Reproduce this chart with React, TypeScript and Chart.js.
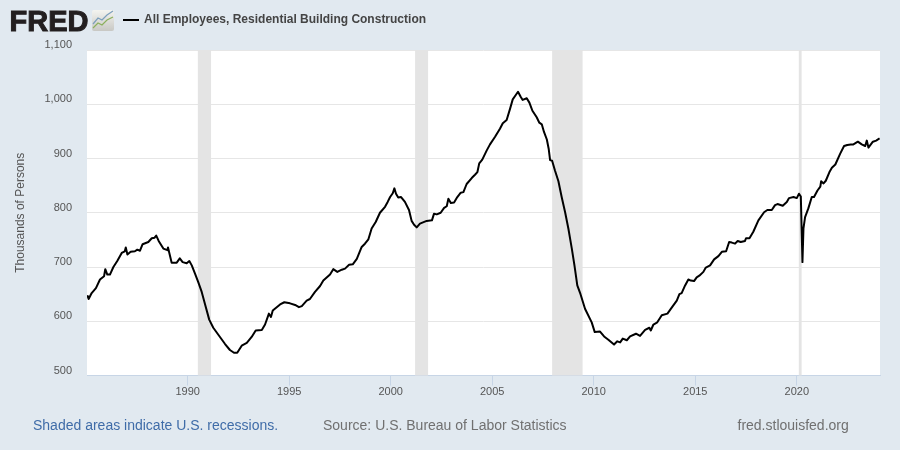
import React, { useEffect, useRef } from "react";
import { Chart, registerables } from "chart.js";

Chart.register(...registerables);

const seriesName = "All Employees, Residential Building Construction";
const yAxisTitle = "Thousands of Persons";
const tickYears = [1990, 1995, 2000, 2005, 2010, 2015, 2020];
const xMin = 1985.04;
const xMax = 2024.1;

const recessionStarts = [1990.5, 2001.2, 2007.95, 2020.1];
const recessionEnds = [1991.15, 2001.84, 2009.45, 2020.24];

const years = [
  1985.06, 1985.12, 1985.27, 1985.48, 1985.68, 1985.88, 1985.94, 1986.04, 1986.17, 1986.34, 1986.53, 1986.75,
  1986.9, 1986.95, 1987.03, 1987.19, 1987.4, 1987.52, 1987.65, 1987.78, 1988.06, 1988.23, 1988.37, 1988.45,
  1988.57, 1988.8, 1989.0, 1989.03, 1989.21, 1989.46, 1989.61, 1989.75, 1989.95, 1990.08, 1990.2, 1990.36,
  1990.52, 1990.69, 1990.85, 1991.06, 1991.26, 1991.59, 1991.84, 1992.08, 1992.28, 1992.44, 1992.66, 1992.91,
  1993.15, 1993.35, 1993.65, 1993.81, 1994.0, 1994.1, 1994.19, 1994.55, 1994.76, 1995.04, 1995.29, 1995.48,
  1995.62, 1995.86, 1996.02, 1996.27, 1996.52, 1996.68, 1997.01, 1997.17, 1997.37, 1997.59, 1997.75, 1997.95,
  1998.13, 1998.33, 1998.57, 1998.73, 1998.9, 1999.06, 1999.26, 1999.47, 1999.72, 1999.85, 1999.97, 2000.1,
  2000.18, 2000.26, 2000.37, 2000.51, 2000.7, 2000.9, 2001.03, 2001.15, 2001.28, 2001.44, 2001.77, 2002.03,
  2002.13, 2002.27, 2002.46, 2002.63, 2002.76, 2002.84, 2002.96, 2003.12, 2003.28, 2003.45, 2003.58, 2003.74,
  2003.99, 2004.15, 2004.27, 2004.36, 2004.51, 2004.73, 2004.89, 2005.14, 2005.38, 2005.52, 2005.71, 2005.88,
  2006.01, 2006.16, 2006.27, 2006.4, 2006.5, 2006.7, 2006.83, 2006.98, 2007.19, 2007.32, 2007.44, 2007.55,
  2007.69, 2007.78, 2007.85, 2007.95, 2008.09, 2008.26, 2008.42, 2008.59, 2008.75, 2008.92, 2009.05, 2009.19,
  2009.33, 2009.57, 2009.9, 2010.05, 2010.31, 2010.51, 2010.72, 2011.0, 2011.16, 2011.3, 2011.43, 2011.63,
  2011.79, 2012.08, 2012.28, 2012.53, 2012.74, 2012.81, 2012.94, 2013.13, 2013.35, 2013.63, 2013.84, 2014.09,
  2014.22, 2014.33, 2014.5, 2014.66, 2014.78, 2014.94, 2015.07, 2015.2, 2015.4, 2015.52, 2015.73, 2015.93,
  2016.14, 2016.31, 2016.52, 2016.67, 2016.8, 2016.96, 2017.09, 2017.24, 2017.45, 2017.5, 2017.67, 2017.86,
  2018.11, 2018.39, 2018.55, 2018.77, 2018.93, 2019.05, 2019.31, 2019.51, 2019.62, 2019.84, 2020.0, 2020.11,
  2020.2, 2020.28, 2020.33, 2020.41, 2020.57, 2020.74, 2020.85, 2021.02, 2021.16, 2021.2, 2021.32, 2021.43,
  2021.61, 2021.73, 2021.9, 2022.14, 2022.33, 2022.49, 2022.66, 2022.79, 2023.01, 2023.2, 2023.37, 2023.45,
  2023.53, 2023.75, 2023.91, 2024.08,
];

const employees = [
  648, 641, 652, 661, 677, 683, 696, 686, 686, 700, 711, 726,
  729, 736, 723, 728, 729, 732, 730, 742, 746, 753, 754, 758,
  748, 734, 731, 736, 708, 708, 716, 709, 707, 711, 703, 688,
  672, 654, 632, 603, 588, 571, 558, 547, 542, 542, 555, 560,
  571, 583, 584, 594, 614, 608, 620, 631, 635, 633, 630, 626,
  628, 638, 641, 654, 665, 675, 686, 696, 691, 695, 697, 704,
  705, 715, 737, 743, 751, 771, 783, 800, 811, 820, 829, 836,
  845, 835, 828, 829, 820, 805, 785, 778, 773, 780, 785, 786,
  798, 797, 800, 809, 812, 826, 818, 819, 829, 837, 838, 853,
  864, 870, 875, 891, 898, 915, 926, 940, 955, 965, 971, 992,
  1009, 1017, 1023, 1014, 1008, 1011, 1003, 988, 976, 966, 963, 949,
  935, 918, 897, 896, 878, 858, 829, 801, 771, 734, 703, 666,
  652, 623, 598, 580, 581, 572, 566, 557, 563, 561, 568, 565,
  572, 577, 573, 584, 588, 583, 594, 598, 611, 614, 625, 638,
  650, 652, 666, 677, 675, 674, 681, 684, 691, 699, 703, 714,
  720, 728, 729, 746, 745, 743, 748, 746, 748, 753, 753, 765,
  786, 801, 805, 805, 814, 816, 813, 820, 827, 829, 827, 835,
  830, 709, 771, 792, 808, 829, 829, 841, 848, 858, 854, 859,
  875, 883, 889, 909, 923, 925, 926, 926, 931, 926, 923, 933,
  920, 931, 933, 937,
];

const plotBackgroundPlugin = {
  id: "plotBackground",
  beforeDraw(chart: any) {
    const { ctx, chartArea } = chart;
    ctx.save();
    ctx.fillStyle = "#ffffff";
    ctx.fillRect(chartArea.left, chartArea.top, chartArea.right - chartArea.left, chartArea.bottom - chartArea.top);
    ctx.restore();
  },
};

const recessionPlugin = {
  id: "recessions",
  beforeDatasetsDraw(chart: any) {
    const { ctx, chartArea, scales } = chart;
    ctx.save();
    ctx.fillStyle = "#e4e4e4";
    recessionStarts.forEach((start, i) => {
      const a = scales.x.getPixelForValue(start);
      const b = scales.x.getPixelForValue(recessionEnds[i]);
      ctx.fillRect(a, chartArea.top, b - a, chartArea.bottom - chartArea.top);
    });
    ctx.restore();
  },
};

const font = "'Liberation Sans', Arial, sans-serif";

const textStyle = (left: number, top: number, size: number, color: string): React.CSSProperties => ({
  position: "absolute",
  left,
  top,
  fontFamily: font,
  fontSize: size,
  lineHeight: "20px",
  color,
  whiteSpace: "nowrap",
});

export default function App() {
  const ref = useRef<HTMLCanvasElement>(null);
  useEffect(() => {
    if (!ref.current) return;
    const chart = new Chart(ref.current, {
      type: "line",
      data: {
        datasets: [
          {
            label: seriesName,
            data: years.map((y, i) => ({ x: y, y: employees[i] })),
            borderColor: "#000000",
            borderWidth: 2,
            pointRadius: 0,
            tension: 0,
            borderJoinStyle: "round",
          },
        ],
      },
      options: {
        animation: false,
        responsive: false,
        parsing: false,
        layout: { padding: { top: 50, right: 20, left: 0, bottom: 0 } },
        plugins: { legend: { display: false }, tooltip: { enabled: false } },
        scales: {
          x: {
            type: "linear",
            min: xMin,
            max: xMax,
            afterBuildTicks: (axis: any) => {
              axis.ticks = tickYears.map((value) => ({ value }));
            },
            afterFit: (axis: any) => {
              axis.height = 74.5;
            },
            grid: { drawOnChartArea: false, color: "#c7d5e6", tickLength: 10 },
            border: { color: "#c7d5e6" },
            ticks: {
              autoSkip: false,
              maxRotation: 0,
              padding: 0,
              color: "#555555",
              font: { family: font, size: 11 },
              callback: (v: any) => String(v),
            },
          },
          y: {
            min: 500,
            max: 1100,
            afterFit: (axis: any) => {
              axis.width = 87;
            },
            grid: { color: "#e6e6e6", drawTicks: false },
            border: { display: false },
            ticks: {
              stepSize: 100,
              padding: 15,
              labelOffset: -5,
              color: "#555555",
              font: { family: font, size: 11 },
            },
            title: {
              display: true,
              text: yAxisTitle,
              color: "#555555",
              font: { family: font, size: 12 },
              padding: { top: 13, bottom: 0 },
            },
          },
        },
      },
      plugins: [plotBackgroundPlugin, recessionPlugin],
    } as any);
    return () => chart.destroy();
  }, []);

  return (
    <div style={{ position: "fixed", left: 0, top: 0, width: 900, height: 450, background: "#e1e9f0", overflow: "hidden" }}>
      <canvas ref={ref} width={900} height={450} style={{ position: "absolute", left: 0, top: 0, display: "block", width: 900, height: 450 }} />
      <div
        style={{
          ...textStyle(9.5, 6, 29, "#231f20"),
          lineHeight: "30px",
          fontWeight: 900,
          letterSpacing: 0,
          WebkitTextStroke: "1px #231f20",
        }}
      >
        FRED
      </div>
      <svg width={23} height={22} viewBox="0 0 23 22" style={{ position: "absolute", left: 92, top: 10 }}>
        <defs>
          <linearGradient id="g" x1="0" y1="0" x2="0" y2="1">
            <stop offset="0" stopColor="#f4f4f0" />
            <stop offset="1" stopColor="#c8c8c4" />
          </linearGradient>
        </defs>
        <rect x="0" y="0" width="22" height="21" rx="2" fill="url(#g)" />
        <polyline points="1,14 6,8 10,10 15,5 21,1" fill="none" stroke="#7d9fbc" strokeWidth="1.2" />
        <polyline points="1,18 6,13 10,15 15,10 21,7" fill="none" stroke="#8cb05e" strokeWidth="1.2" />
      </svg>
      <div style={{ position: "absolute", left: 123, top: 19, width: 16, height: 2, background: "#000" }} />
      <div style={{ ...textStyle(144, 9, 12, "#444444"), fontWeight: 700 }}>{seriesName}</div>
      <div style={textStyle(33, 415, 14, "#3f6ca8")}>Shaded areas indicate U.S. recessions.</div>
      <div style={textStyle(323, 415, 14, "#707070")}>Source: U.S. Bureau of Labor Statistics</div>
      <div style={textStyle(737.5, 415, 14, "#707070")}>fred.stlouisfed.org</div>
    </div>
  );
}
